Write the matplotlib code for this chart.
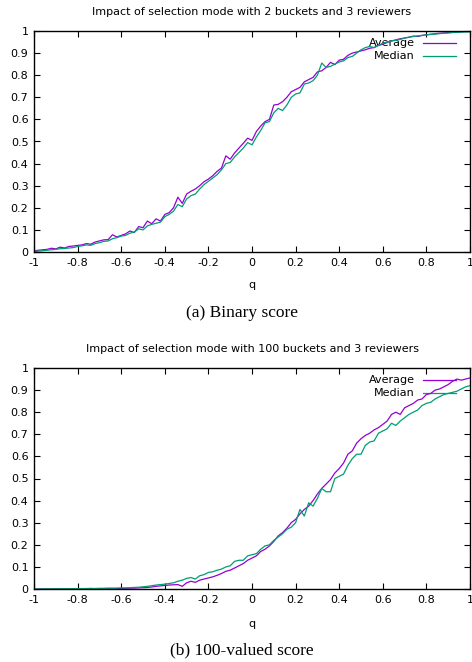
import numpy as np
import matplotlib
matplotlib.use("Agg")
import matplotlib.pyplot as plt

q = np.round(np.arange(-1.0, 1.0001, 0.02), 2)

avg_binary = [
    0.005, 0.008, 0.010, 0.012, 0.017, 0.014, 0.022, 0.018, 0.025, 0.027,
    0.030, 0.032, 0.038, 0.035, 0.045, 0.050, 0.055, 0.056, 0.078, 0.068,
    0.075, 0.082, 0.095, 0.088, 0.115, 0.110, 0.140, 0.128, 0.150, 0.140,
    0.170, 0.178, 0.200, 0.248, 0.220, 0.262, 0.275, 0.285, 0.300, 0.318,
    0.330, 0.345, 0.365, 0.380, 0.435, 0.420, 0.448, 0.470, 0.492, 0.515,
    0.505, 0.545, 0.570, 0.590, 0.600, 0.665, 0.668, 0.680, 0.700, 0.725,
    0.735, 0.745, 0.770, 0.780, 0.790, 0.815, 0.820, 0.835, 0.858, 0.848,
    0.868, 0.872, 0.890, 0.900, 0.905, 0.910, 0.915, 0.922, 0.925, 0.935,
    0.940, 0.948, 0.955, 0.960, 0.965, 0.968, 0.972, 0.977, 0.975, 0.980,
    0.983, 0.985, 0.988, 0.990, 0.991, 0.993, 0.994, 0.996, 0.997, 0.998,
    0.998,
]
med_binary = [
    0.002, 0.004, 0.006, 0.008, 0.010, 0.012, 0.015, 0.016, 0.018, 0.020,
    0.025, 0.028, 0.032, 0.030, 0.038, 0.042, 0.048, 0.050, 0.060, 0.065,
    0.072, 0.075, 0.085, 0.090, 0.105, 0.100, 0.118, 0.125, 0.130, 0.135,
    0.160, 0.170, 0.185, 0.215, 0.205, 0.240, 0.255, 0.262, 0.285, 0.305,
    0.320, 0.335, 0.350, 0.372, 0.400, 0.405, 0.430, 0.450, 0.470, 0.495,
    0.485, 0.520, 0.550, 0.585, 0.590, 0.630, 0.650, 0.640, 0.665, 0.700,
    0.715, 0.720, 0.760, 0.765, 0.775, 0.800, 0.855, 0.835, 0.840, 0.850,
    0.860, 0.865, 0.880, 0.885, 0.900, 0.915, 0.925, 0.930, 0.925, 0.935,
    0.945, 0.950, 0.955, 0.958, 0.962, 0.968, 0.972, 0.975, 0.978, 0.980,
    0.982, 0.985, 0.986, 0.988, 0.990, 0.991, 0.993, 0.994, 0.995, 0.996,
    0.996,
]
avg_100 = [
    0.000, 0.000, 0.000, 0.000, 0.000, 0.001, 0.000, 0.001, 0.001, 0.001,
    0.001, 0.001, 0.002, 0.001, 0.002, 0.002, 0.002, 0.002, 0.003, 0.002,
    0.003, 0.003, 0.004, 0.004, 0.005, 0.006, 0.007, 0.009, 0.012, 0.014,
    0.016, 0.018, 0.019, 0.020, 0.012, 0.028, 0.035, 0.030, 0.040, 0.045,
    0.050, 0.055, 0.062, 0.070, 0.080, 0.085, 0.095, 0.105, 0.115, 0.130,
    0.140, 0.150, 0.170, 0.180, 0.195, 0.215, 0.240, 0.255, 0.275, 0.300,
    0.315, 0.340, 0.360, 0.375, 0.400, 0.430, 0.455, 0.475, 0.495, 0.525,
    0.545, 0.570, 0.610, 0.625, 0.660, 0.680, 0.695, 0.705, 0.720, 0.730,
    0.745, 0.760, 0.790, 0.800, 0.790, 0.820, 0.830, 0.840, 0.855, 0.860,
    0.880, 0.885, 0.900, 0.905, 0.915, 0.925, 0.940, 0.950, 0.945, 0.950,
    0.955,
]
med_100 = [
    0.000, 0.000, 0.000, 0.001, 0.000, 0.001, 0.001, 0.001, 0.002, 0.001,
    0.002, 0.002, 0.002, 0.003, 0.002, 0.003, 0.003, 0.004, 0.003, 0.004,
    0.005, 0.005, 0.006, 0.007, 0.008, 0.010, 0.012, 0.015, 0.018, 0.020,
    0.022, 0.025, 0.028, 0.035, 0.040, 0.048, 0.052, 0.045, 0.060, 0.065,
    0.075, 0.078, 0.085, 0.090, 0.100, 0.105, 0.125, 0.130, 0.130, 0.150,
    0.155, 0.160, 0.180, 0.195, 0.200, 0.220, 0.235, 0.250, 0.270, 0.280,
    0.300, 0.360, 0.330, 0.390, 0.375, 0.410, 0.455, 0.440, 0.440, 0.500,
    0.510, 0.520, 0.560, 0.590, 0.610, 0.610, 0.650, 0.665, 0.670, 0.705,
    0.715, 0.725, 0.750, 0.740, 0.760, 0.775, 0.790, 0.800, 0.810, 0.830,
    0.840, 0.845, 0.860, 0.870, 0.880, 0.885, 0.890, 0.895, 0.905, 0.915,
    0.920,
]

titles = ["Impact of selection mode with 2 buckets and 3 reviewers",
          "Impact of selection mode with 100 buckets and 3 reviewers"]
captions = ["(a) Binary score", "(b) 100-valued score"]
series_labels = ["Average", "Median"]
xticks = [-1, -0.8, -0.6, -0.4, -0.2, 0, 0.2, 0.4, 0.6, 0.8, 1]
xticklabels = ["-1", "-0.8", "-0.6", "-0.4", "-0.2", "0", "0.2", "0.4", "0.6", "0.8", "1"]
yticks = [0, 0.1, 0.2, 0.3, 0.4, 0.5, 0.6, 0.7, 0.8, 0.9, 1]
yticklabels = ["0", "0.1", "0.2", "0.3", "0.4", "0.5", "0.6", "0.7", "0.8", "0.9", "1"]

PURPLE = "#9400d3"
GREEN = "#009e73"
FS = 8

fig = plt.figure(figsize=(4.72, 6.62), dpi=100)
W, H = 472, 662

def px_axes(x0, x1, ytop, ybot):
    return fig.add_axes([x0 / W, 1 - ybot / H, (x1 - x0) / W, (ybot - ytop) / H])

panels = [
    (px_axes(34, 470, 31, 252), avg_binary, med_binary, 12, 285, 313),
    (px_axes(34, 470, 368, 589), avg_100, med_100, 349, 624, 650),
]

for i, (ax, av, md, ty, xly, cy) in enumerate(panels):
    ax.plot(q, av, color=PURPLE, lw=0.9)
    ax.plot(q, md, color=GREEN, lw=0.9)
    ax.set_xlim(-1, 1)
    ax.set_ylim(0, 1)
    ax.set_xticks(xticks)
    ax.set_xticklabels(xticklabels)
    ax.set_yticks(yticks)
    ax.set_yticklabels(yticklabels)
    ax.tick_params(direction="in", top=True, right=True, length=4.5, width=0.8,
                   labelsize=FS, colors="black", pad=4)
    for s in ax.spines.values():
        s.set_linewidth(1.0)
        s.set_color("black")
    # legend (gnuplot style: right aligned text, sample on right)
    for j, (lab, col) in enumerate(zip(series_labels, [PURPLE, GREEN])):
        yy = 0.945 - j * 0.058
        ax.text(0.873, yy, lab, transform=ax.transAxes, ha="right", va="center",
                fontsize=FS, color="black", zorder=1)
        ax.plot([0.892, 0.968], [yy, yy], transform=ax.transAxes, color=col,
                lw=0.9, zorder=1)
    fig.text(252 / W, 1 - ty / H, titles[i], ha="center", va="center", fontsize=FS)
    fig.text(252 / W, 1 - xly / H, "q", ha="center", va="center", fontsize=FS)
    fig.text(242 / W, 1 - cy / H, captions[i], ha="center", va="center",
             fontsize=12.5, family="Liberation Serif")

fig.savefig("out.png", dpi=100)
